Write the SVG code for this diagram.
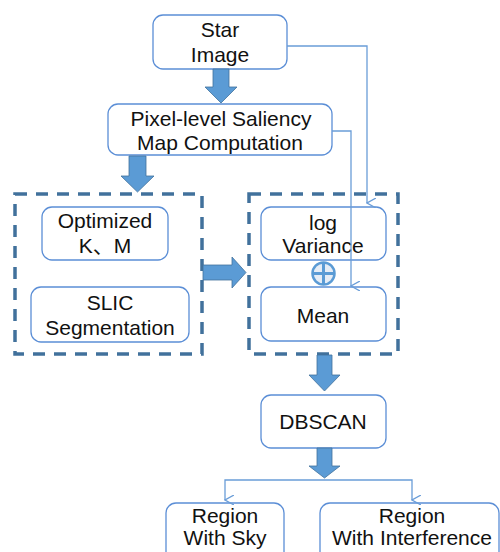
<svg xmlns="http://www.w3.org/2000/svg" width="500" height="552" viewBox="0 0 500 552">
<defs>
<style>
.box{fill:#fff;stroke:#5B8ED6;stroke-width:1.3}
.dash{fill:none;stroke:#41719C;stroke-width:3.5;stroke-dasharray:12 9}
.t{font-family:"Liberation Sans","Noto Sans CJK SC",Arial,sans-serif;font-size:21px;fill:#111;text-anchor:middle}
.blk{fill:#5B9BD5;stroke:#41719C;stroke-width:0.8}
.ln{fill:none;stroke:#6A9DD8;stroke-width:1.3}
</style>
<marker id="v" viewBox="0 0 10 10" refX="5" refY="9" markerWidth="10" markerHeight="10" markerUnits="userSpaceOnUse" orient="auto-start-reverse">
<path d="M0,0 L5,9 L10,0" fill="none" stroke="#6A9DD8" stroke-width="1.3"/>
</marker>
</defs>
<rect width="500" height="552" fill="#fff"/>
<g id="group-left"><rect class="dash" x="15" y="194" width="187" height="160"/></g>
<g id="group-right"><rect class="dash" x="249" y="194" width="149" height="160"/></g>
<g id="star-image">
<rect class="box" x="153" y="15" width="134" height="54" rx="10"/>
<text class="t" x="220" y="37">Star</text>
<text class="t" x="220" y="62">Image</text>
</g>
<g id="saliency">
<rect class="box" x="108" y="104" width="224" height="51" rx="10"/>
<text class="t" x="221" y="126">Pixel-level Saliency</text>
<text class="t" x="220" y="150">Map Computation</text>
</g>
<g id="optimized">
<rect class="box" x="42" y="207" width="126" height="53" rx="10"/>
<text class="t" x="105" y="228">Optimized</text>
<text class="t" x="105" y="253">K、M</text>
</g>
<g id="slic">
<rect class="box" x="31" y="287" width="158" height="55" rx="10"/>
<text class="t" x="110" y="310">SLIC</text>
<text class="t" x="110" y="335">Segmentation</text>
</g>
<g id="log-variance">
<rect class="box" x="261" y="207" width="125" height="53" rx="10"/>
<text class="t" x="323" y="230">log</text>
<text class="t" x="323" y="253">Variance</text>
</g>
<g id="plus">
<circle cx="323.5" cy="273.5" r="11" fill="#E6EDF6" stroke="#5B9BD5" stroke-width="2.5"/>
<path d="M312.5,273.5 H334.5 M323.5,262.5 V284.5" stroke="#5B9BD5" stroke-width="3"/>
</g>
<g id="mean">
<rect class="box" x="261" y="287" width="125" height="54" rx="10"/>
<text class="t" x="323" y="323">Mean</text>
</g>
<g id="dbscan">
<rect class="box" x="261" y="395" width="125" height="53" rx="10"/>
<text class="t" x="323" y="429">DBSCAN</text>
</g>
<g id="region-sky">
<rect class="box" x="166" y="503" width="118" height="60" rx="10"/>
<text class="t" x="225" y="523">Region</text>
<text class="t" x="225" y="545">With Sky</text>
</g>
<g id="region-interference">
<rect class="box" x="320" y="503" width="179" height="60" rx="10"/>
<text class="t" x="412" y="523">Region</text>
<text class="t" x="412" y="545">With Interference</text>
</g>
<g id="connectors">
<path class="blk" d="M213,69 H229 V87 H237 L221,103 L205,87 H213 Z"/>
<path class="blk" d="M129,156 H146 V176 H154 L137.5,192 L121,176 H129 Z"/>
<path class="blk" d="M203,265 H232 V257 L246,272.5 L232,288 V280 H203 Z"/>
<path class="blk" d="M317,355 H332 V375 H340 L324.5,391 L309,375 H317 Z"/>
<path class="blk" d="M317,448 H332 V466 H340 L324.5,478 L309,466 H317 Z"/>
<path class="ln" d="M287,46 H367 V203" marker-end="url(#v)"/>
<path class="ln" d="M332,131 H351 V286" marker-end="url(#v)"/>
<path class="ln" d="M225,500 V480 H412 V500" marker-end="url(#v)" marker-start="url(#v)"/>
</g>
</svg>
